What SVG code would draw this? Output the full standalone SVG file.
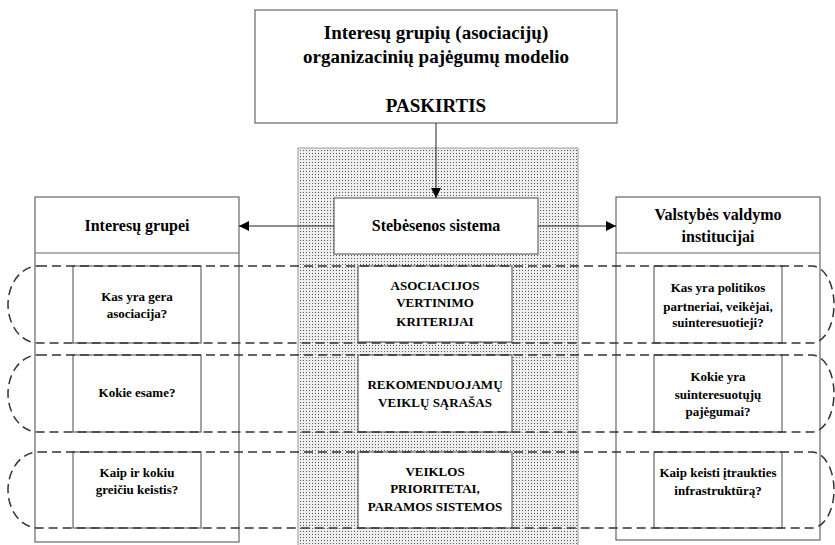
<svg xmlns="http://www.w3.org/2000/svg" width="835" height="545" viewBox="0 0 835 545">
<defs>
<pattern id="dots" width="3" height="3" patternUnits="userSpaceOnUse">
<rect width="3" height="3" fill="#eeeeee"/>
<rect width="1" height="1" fill="#555555"/>
</pattern>
<marker id="arr" viewBox="0 0 10 10" refX="10" refY="5" markerWidth="10" markerHeight="10" markerUnits="userSpaceOnUse" orient="auto">
<path d="M0,0 L10,5 L0,10 Z" fill="#000"/>
</marker>
<style>
.box{fill:#fff;stroke:#666;stroke-width:1.2}
text{font-family:'Liberation Serif','Times New Roman',Tinos,'Noto Serif','DejaVu Serif',FreeSerif,Times,serif;font-weight:bold;fill:#000;text-anchor:middle}
.big{font-size:19px}
.mid{font-size:16px}
.sm{font-size:13px}
.conn{stroke:#222;stroke-width:1;fill:none;marker-end:url(#arr)}
.loop{fill:none;stroke:#333;stroke-width:1.5;stroke-dasharray:9 5}
</style>
</defs>
<rect width="835" height="545" fill="#fff"/>

<g id="panel">
<rect x="298" y="148" width="280" height="400" fill="url(#dots)" stroke="#999" stroke-width="1"/>
</g>

<g id="purpose">
<rect class="box" x="255" y="10" width="362" height="113"/>
<text class="big" x="436" y="39">Interesų grupių (asociacijų)</text>
<text class="big" x="436" y="63">organizacinių pajėgumų modelio</text>
<text class="big" x="436" y="112">PASKIRTIS</text>
</g>

<g id="monitoring">
<rect class="box" x="334" y="198" width="204" height="56"/>
<text class="mid" x="436" y="231">Stebėsenos sistema</text>
</g>

<g id="left-column">
<rect class="box" x="35" y="197" width="204" height="345"/>
<line x1="35" y1="253" x2="239" y2="253" stroke="#666" stroke-width="1.2"/>
<text class="mid" x="137" y="231">Interesų grupei</text>
</g>

<g id="right-column">
<rect class="box" x="616" y="197" width="204" height="343"/>
<line x1="616" y1="253" x2="820" y2="253" stroke="#666" stroke-width="1.2"/>
<text class="mid" x="718" y="220">Valstybės valdymo</text>
<text class="mid" x="718" y="242">institucijai</text>
</g>

<g id="left-q1">
<rect class="box" x="73" y="266" width="128" height="77"/>
<text class="sm" x="137" y="301">Kas yra gera</text>
<text class="sm" x="137" y="318">asociacija?</text>
</g>
<g id="left-q2">
<rect class="box" x="73" y="355" width="128" height="77"/>
<text class="sm" x="137" y="397">Kokie esame?</text>
</g>
<g id="left-q3">
<rect class="box" x="73" y="452" width="128" height="76"/>
<text class="sm" x="137" y="477">Kaip ir kokiu</text>
<text class="sm" x="137" y="494">greičiu keistis?</text>
</g>

<g id="center-c1">
<rect class="box" x="358" y="266" width="154" height="76"/>
<text class="sm" x="435" y="290">ASOCIACIJOS</text>
<text class="sm" x="435" y="307">VERTINIMO</text>
<text class="sm" x="435" y="326">KRITERIJAI</text>
</g>
<g id="center-c2">
<rect class="box" x="358" y="355" width="154" height="77"/>
<text class="sm" x="435" y="389">REKOMENDUOJAMŲ</text>
<text class="sm" x="435" y="407">VEIKLŲ SĄRAŠAS</text>
</g>
<g id="center-c3">
<rect class="box" x="358" y="452" width="154" height="76"/>
<text class="sm" x="435" y="476">VEIKLOS</text>
<text class="sm" x="435" y="493">PRIORITETAI,</text>
<text class="sm" x="435" y="511">PARAMOS SISTEMOS</text>
</g>

<g id="right-q1">
<rect class="box" x="654" y="266" width="128" height="77"/>
<text class="sm" x="718" y="292">Kas yra politikos</text>
<text class="sm" x="718" y="311">partneriai, veikėjai,</text>
<text class="sm" x="718" y="327">suinteresuotieji?</text>
</g>
<g id="right-q2">
<rect class="box" x="654" y="355" width="128" height="77"/>
<text class="sm" x="718" y="381">Kokie yra</text>
<text class="sm" x="718" y="399">suinteresuotųjų</text>
<text class="sm" x="718" y="416">pajėgumai?</text>
</g>
<g id="right-q3">
<rect class="box" x="654" y="452" width="128" height="76"/>
<text class="sm" x="718" y="477">Kaip keisti įtraukties</text>
<text class="sm" x="718" y="495">infrastruktūrą?</text>
</g>

<g id="groupings">
<path class="loop" d="M38,266 H812 A22,38.5 0 0 1 812,343 H38 A30,38.5 0 0 1 38,266 Z"/>
<path class="loop" d="M38,355 H812 A22,38.5 0 0 1 812,432 H38 A30,38.5 0 0 1 38,355 Z"/>
<path class="loop" d="M38,452 H812 A22,38 0 0 1 812,528 H38 A30,38 0 0 1 38,452 Z"/>
</g>

<g id="connectors">
<line class="conn" x1="436" y1="123" x2="436" y2="198"/>
<line class="conn" x1="334" y1="226" x2="239" y2="226"/>
<line class="conn" x1="538" y1="226" x2="616" y2="226"/>
</g>
</svg>
